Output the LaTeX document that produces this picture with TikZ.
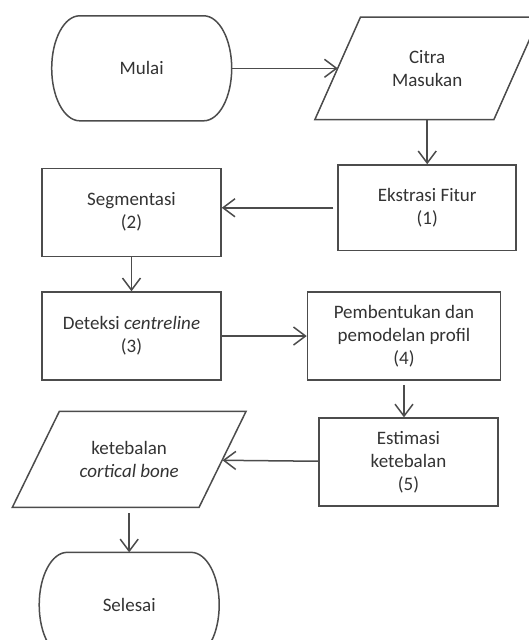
\documentclass[tikz,border=0pt]{standalone}
\usepackage{fontspec}
\setmainfont{Carlito}
\usepackage{tikz}
\usetikzlibrary{positioning,arrows.meta}
\tikzset{
  proc/.style  ={rectangle, draw=black!70, line width=1.5pt, align=center,
                 text=black!80, inner sep=2pt,
                 minimum width=179pt, minimum height=88pt},
  io/.style    ={rectangle, align=center, text=black!80, inner sep=2pt,
                 outer sep=0pt},
  term/.style  ={rectangle, text=black!80, outer sep=0pt,
                 minimum width=180pt, minimum height=105pt},
  outline/.style={draw=black!70, line width=1.5pt},
  arr/.style   ={-{Straight Barb[length=12pt, width=18pt]}, line width=1.5pt,
                 draw=black!70},
}

\begin{document}
\begin{tikzpicture}[x=1pt, y=1pt, font=\fontsize{19}{23}\selectfont]
  \useasboundingbox (0,0) rectangle (529,-640);
  \clip (0,0) rectangle (529,-640);

  % start + input
  \node[term] (mulai) at (141.7,-68.3) {Mulai};
  \node[io, minimum width=179pt, minimum height=102.5pt,
        right=106pt of mulai] (citra) {Citra\\Masukan};

  % first row of processing
  \node[proc, minimum width=178pt, minimum height=85.5pt,
        below=44.7pt of citra] (ekstrasi) {Ekstrasi Fitur\\(1)};
  \node[proc, left=115.7pt of ekstrasi, yshift=-4.5pt] (segmentasi) {Segmentasi\\(2)};

  % second row
  \node[proc, below=34.3pt of segmentasi] (deteksi) {Deteksi \textit{centreline}\\(3)};
  \node[proc, minimum width=193pt, right=85pt of deteksi] (profil)
       {Pembentukan dan\\pemodelan profil\\(4)};

  % thickness + output
  \node[proc, below=36.6pt of profil, xshift=4.5pt] (estimasi) {Estimasi\\ketebalan\\(5)};
  \node[io, minimum width=186.7pt, minimum height=96pt,
        left=95.7pt of estimasi, yshift=2.8pt] (tebal) {ketebalan\\\textit{cortical bone}};

  % end
  \node[term, below=45pt of tebal] (selesai) {Selesai};

  % terminator outlines (elliptic ends)
  \foreach \t in {mulai,selesai}
    \draw[outline] ([xshift=28pt]\t.north west) -- ([xshift=-28pt]\t.north east)
      arc[start angle=90, end angle=-90, x radius=28pt, y radius=52.5pt]
      -- ([xshift=28pt]\t.south west)
      arc[start angle=270, end angle=90, x radius=28pt, y radius=52.5pt] -- cycle;

  % data outlines (parallelograms, half slant per side)
  \foreach \d/\s in {citra/22.8, tebal/23.5}
    \draw[outline] ([xshift=\s pt]\d.north west) -- ([xshift=\s pt]\d.north east)
      -- ([xshift=-\s pt]\d.south east) -- ([xshift=-\s pt]\d.south west) -- cycle;

  % arrows
  \draw[arr] (mulai) -- (citra);
  \draw[arr] (citra.south -| ekstrasi.north) -- (ekstrasi.north);
  \draw[arr, shorten <=4pt] (ekstrasi.west) -- (ekstrasi.west -| segmentasi.east);
  \draw[arr] (segmentasi.south -| deteksi.north) -- (deteksi.north);
  \draw[arr] (deteksi) -- (deteksi -| profil.west);
  \draw[arr, shorten <=4pt] (profil.south) -- (profil.south |- estimasi.north);
  \draw[arr] (estimasi) -- (tebal);
  \draw[arr, shorten <=6pt] (tebal.south) -- (selesai.north);
\end{tikzpicture}
\end{document}
